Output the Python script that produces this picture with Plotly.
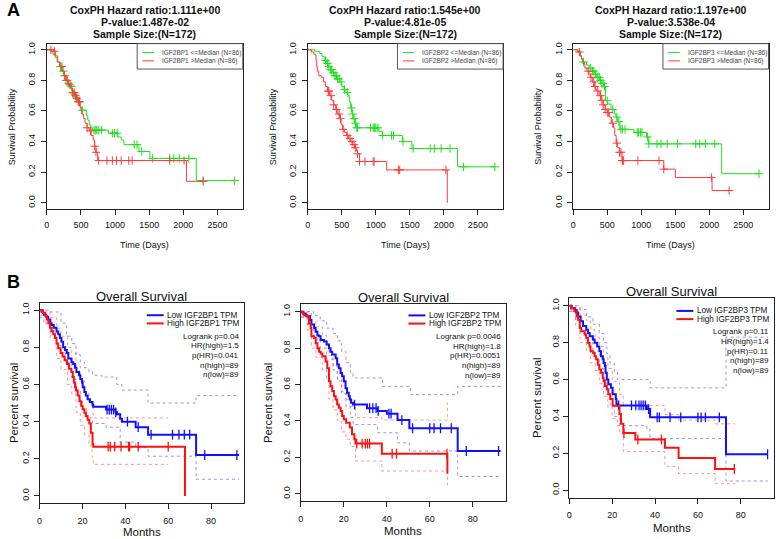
import numpy as np
import plotly.graph_objects as go

W, H = 776, 539
FONT = "Liberation Sans, Arial, Helvetica, sans-serif"


def fx(p):
    return p / W


def fy(p):
    return 1 - p / H


# ---------------- Panel A data (days) ----------------
A_xticks = [0, 500, 1000, 1500, 2000, 2500]
A_yticks = [0.0, 0.2, 0.4, 0.6, 0.8, 1.0]
A_ytick_text = ["0.0", "0.2", "0.4", "0.6", "0.8", "1.0"]
A_genes = ["IGF2BP1", "IGF2BP2", "IGF2BP3"]
A_hr = ["1.111e+00", "1.545e+00", "1.197e+00"]
A_pval = ["1.487e-02", "4.81e-05", "3.538e-04"]
A_n = [172, 172, 172]
A_group_n = [86, 86, 86]

A1_low_t = [0, 60, 90, 120, 150, 185, 215, 245, 275, 305, 335, 365, 395, 425, 455, 480, 500, 580, 600,
            620, 645, 670, 900, 1040, 1090, 1130, 1350, 1510, 2190]
A1_low_s = [1.0, 0.99, 0.97, 0.95, 0.92, 0.89, 0.86, 0.83, 0.80, 0.78, 0.76, 0.73, 0.71, 0.69, 0.66, 0.63,
            0.605, 0.57, 0.54, 0.51, 0.49, 0.475, 0.455, 0.43, 0.41, 0.38, 0.335, 0.29, 0.145]
A1_low_end = 2750
A1_low_cens = [200, 240, 280, 320, 360, 400, 430, 470, 520, 690, 710, 730, 760, 800, 960, 990, 1030, 1280,
               1320, 1390, 1550, 1800, 1860, 1940, 2080, 2290, 2750]
A1_high_t = [0, 100, 125, 160, 190, 225, 255, 285, 315, 345, 375, 405, 435, 460, 490, 510, 540, 560, 590,
             620, 650, 680, 700, 720, 745, 2045]
A1_high_s = [1.0, 0.99, 0.96, 0.92, 0.89, 0.86, 0.83, 0.80, 0.77, 0.75, 0.72, 0.70, 0.68, 0.66, 0.62, 0.58,
             0.55, 0.52, 0.49, 0.47, 0.44, 0.41, 0.37, 0.33, 0.276, 0.14]
A1_high_end = 2290
A1_high_cens = [60, 110, 220, 260, 300, 340, 380, 400, 420, 440, 460, 480, 590, 640, 700, 720, 760, 880,
                960, 1020, 1090, 1200, 1250, 1800, 2010, 2290]

A2_low_t = [0, 100, 175, 210, 240, 270, 300, 330, 360, 400, 430, 470, 500, 530, 560, 590, 610, 630, 650,
            670, 690, 710, 1045, 1095, 1390, 1530, 2200]
A2_low_s = [1.0, 0.99, 0.975, 0.955, 0.93, 0.91, 0.89, 0.87, 0.85, 0.83, 0.81, 0.79, 0.76, 0.74, 0.72, 0.70,
            0.66, 0.62, 0.58, 0.55, 0.52, 0.49, 0.465, 0.44, 0.40, 0.355, 0.235]
A2_low_end = 2750
A2_low_cens = [260, 290, 310, 330, 350, 380, 400, 420, 440, 460, 490, 540, 580, 640, 660, 680, 700, 720,
               730, 920, 960, 980, 1000, 1030, 1100, 1230, 1260, 1400, 1550, 1800, 1860, 1960, 2090, 2290, 2750]
A2_high_t = [0, 50, 90, 120, 130, 140, 160, 200, 230, 260, 290, 320, 350, 380, 410, 440, 470, 490, 510, 540,
             570, 600, 630, 660, 690, 710, 730, 760, 1160, 2050]
A2_high_s = [1.0, 0.985, 0.97, 0.93, 0.89, 0.86, 0.83, 0.82, 0.79, 0.76, 0.73, 0.70, 0.67, 0.64, 0.61, 0.58,
             0.55, 0.51, 0.48, 0.46, 0.44, 0.42, 0.40, 0.38, 0.36, 0.34, 0.32, 0.27, 0.215, 0.0]
A2_high_end = 2050
A2_high_cens = [300, 310, 340, 380, 420, 460, 480, 520, 580, 620, 650, 680, 700, 730, 760, 840, 960, 975,
                1330, 1350, 2030]

A3_low_t = [0, 72, 106, 120, 145, 193, 232, 280, 314, 347, 386, 410, 444, 473, 507, 555, 603, 627, 651, 685,
            893, 1076, 1110, 2181]
A3_low_s = [1.0, 0.99, 0.96, 0.94, 0.92, 0.90, 0.88, 0.86, 0.84, 0.82, 0.80, 0.78, 0.76, 0.667, 0.645, 0.61,
            0.58, 0.56, 0.53, 0.48, 0.46, 0.43, 0.385, 0.19]
A3_low_end = 2730
A3_low_cens = [150, 250, 280, 300, 330, 360, 380, 400, 420, 440, 460, 500, 580, 640, 670, 700, 720, 760, 940,
               960, 990, 1010, 1090, 1110, 1230, 1290, 1380, 1530, 1800, 1860, 1940, 2080, 2730]
A3_high_t = [0, 60, 100, 120, 140, 170, 200, 230, 250, 280, 310, 330, 350, 380, 410, 440, 470, 500, 530, 560,
             590, 610, 630, 650, 680, 715, 1330, 1500, 2040]
A3_high_s = [1.0, 0.985, 0.96, 0.94, 0.91, 0.88, 0.86, 0.84, 0.82, 0.79, 0.76, 0.74, 0.73, 0.70, 0.67, 0.64,
             0.61, 0.59, 0.56, 0.52, 0.49, 0.44, 0.39, 0.36, 0.33, 0.276, 0.22, 0.165, 0.08]
A3_high_end = 2290
A3_high_cens = [90, 220, 260, 300, 320, 360, 400, 420, 440, 470, 500, 520, 580, 640, 680, 700, 720, 730, 740,
                950, 1260, 1330, 2030, 2290]

# ---------------- Panel B data (months) ----------------
B_xticks = [0, 20, 40, 60, 80]
B_yticks = [0.0, 0.2, 0.4, 0.6, 0.8, 1.0]
B_ytick_text = ["0.0", "0.2", "0.4", "0.6", "0.8", "1.0"]
B_stats = [
    ["Logrank p=0.04", "HR(high)=1.5", "p(HR)=0.041", "n(high)=89", "n(low)=89"],
    ["Logrank p=0.0046", "HR(high)=1.8", "p(HR)=0.0051", "n(high)=89", "n(low)=89"],
    ["Logrank p=0.11", "HR(high)=1.4", "p(HR)=0.11", "n(high)=89", "n(low)=89"],
]

B1_low_t = [0, 1.5, 2, 3, 4, 5, 5.6, 6.6, 7.9, 8.7, 9.5, 10.2, 11, 11.9, 12.7, 13.4, 14.9, 15.7, 16.5, 17.2,
            18.4, 19, 19.8, 20.1, 20.9, 21.6, 22.4, 23.5, 24.7, 25, 31, 35.4, 36.1, 37.6, 38.4, 44.8, 50.6, 73]
B1_low_s = [1.0, 0.985, 0.975, 0.965, 0.95, 0.93, 0.92, 0.905, 0.885, 0.87, 0.85, 0.83, 0.80, 0.785, 0.77,
            0.74, 0.72, 0.71, 0.69, 0.667, 0.65, 0.63, 0.61, 0.585, 0.56, 0.54, 0.52, 0.505, 0.49, 0.48, 0.465,
            0.45, 0.44, 0.415, 0.40, 0.37, 0.33, 0.22]
B1_low_end = 93
B1_low_cens = [31.5, 32.5, 33.5, 34.5, 35.5, 41, 46, 52, 62, 65, 67.5, 70, 77, 92]
B1_high_t = [0, 1, 1.8, 2.6, 3.4, 4.1, 4.9, 5.6, 6.4, 7.2, 7.9, 8.7, 9.8, 10.7, 11.7, 12.8, 13.7, 14.8, 15.5,
             16, 16.5, 17, 17.8, 18.6, 19.4, 20.1, 20.9, 21.6, 22.4, 23.2, 23.9, 24.7, 25, 67.8]
B1_high_s = [1.0, 0.99, 0.985, 0.97, 0.95, 0.93, 0.905, 0.887, 0.87, 0.85, 0.82, 0.795, 0.77, 0.75, 0.73,
             0.71, 0.685, 0.667, 0.64, 0.61, 0.585, 0.567, 0.54, 0.51, 0.485, 0.466, 0.448, 0.43, 0.41, 0.39,
             0.34, 0.28, 0.265, 0.0]
B1_high_end = 67.8
B1_high_cens = [32, 33, 35, 38, 41.5, 42, 46, 60]
B1_low_up_t = [0, 5, 10, 12.5, 15, 17, 19, 21, 23, 24.7, 29, 36, 38.4, 50.6, 73]
B1_low_up_s = [1.0, 0.99, 0.93, 0.86, 0.82, 0.76, 0.72, 0.69, 0.67, 0.65, 0.64, 0.60, 0.57, 0.50, 0.54]
B1_low_lo_t = [0, 2, 5, 8, 10, 12, 15, 17, 19, 20, 22, 24.7, 31, 37.6, 44.8, 50.6, 73]
B1_low_lo_s = [0.96, 0.93, 0.87, 0.81, 0.77, 0.72, 0.63, 0.57, 0.51, 0.47, 0.42, 0.39, 0.37, 0.29, 0.26,
               0.214, 0.09]
B1_ci_low_end = 93
B1_high_up_t = [0, 3, 5, 8, 10, 13, 15, 17, 19, 21, 23, 25]
B1_high_up_s = [1.0, 0.99, 0.96, 0.90, 0.86, 0.80, 0.77, 0.70, 0.62, 0.56, 0.50, 0.42]
B1_high_lo_t = [0, 3, 5, 8, 10, 13, 15, 17, 19, 21, 23, 24.5, 25]
B1_high_lo_s = [0.97, 0.92, 0.85, 0.74, 0.68, 0.60, 0.55, 0.45, 0.38, 0.33, 0.27, 0.21, 0.17]
B1_ci_high_end = 60

B2_low_t = [0, 1.2, 2.3, 3, 4.3, 4.9, 6.2, 6.9, 7.7, 8.5, 9.2, 10.8, 12, 13.1, 13.8, 14.6, 16.2, 16.9, 17.7,
            18.5, 19.2, 20, 20.8, 21.5, 22.3, 22.8, 23.4, 24.3, 30.8, 35.7, 40, 45, 50.5, 73]
B2_low_s = [1.0, 0.99, 0.98, 0.975, 0.955, 0.93, 0.91, 0.89, 0.87, 0.865, 0.845, 0.836, 0.82, 0.80, 0.78,
            0.765, 0.745, 0.71, 0.69, 0.664, 0.645, 0.618, 0.58, 0.555, 0.536, 0.518, 0.50, 0.49, 0.47, 0.455,
            0.44, 0.405, 0.36, 0.235]
B2_low_end = 93
B2_low_cens = [25, 32, 33.5, 35, 36, 41, 42, 47, 52, 60, 62, 65, 70, 77, 92]
B2_high_t = [0, 0.8, 1.4, 2.5, 3.8, 4.6, 4.9, 6.2, 6.9, 7.7, 8.5, 9.2, 10, 11.5, 12.3, 13.1, 13.8, 14.6, 15.4,
             16.2, 16.9, 17.7, 18.5, 19.2, 20, 21.1, 22.8, 23.8, 24.9, 25.4, 37.7, 68.2]
B2_high_s = [1.0, 0.99, 0.98, 0.975, 0.935, 0.91, 0.865, 0.855, 0.827, 0.80, 0.78, 0.77, 0.755, 0.727, 0.69,
             0.618, 0.59, 0.564, 0.536, 0.518, 0.49, 0.473, 0.455, 0.427, 0.41, 0.39, 0.364, 0.327, 0.30, 0.276,
             0.22, 0.11]
B2_high_end = 68.2
B2_high_cens = [26, 28.5, 30, 31, 32, 42.5, 44.5, 68]
B2_low_up_t = [0, 3, 6, 9, 12, 15, 17, 19, 21, 23, 24.3, 38, 51, 73]
B2_low_up_s = [1.0, 1.0, 0.98, 0.95, 0.91, 0.88, 0.84, 0.78, 0.72, 0.66, 0.636, 0.59, 0.545, 0.59]
B2_low_lo_t = [0, 3, 6, 9, 12, 15, 17, 19, 21, 23, 24.3, 35.7, 45, 50.5, 73]
B2_low_lo_s = [0.97, 0.93, 0.85, 0.80, 0.74, 0.68, 0.62, 0.55, 0.48, 0.42, 0.38, 0.335, 0.28, 0.235, 0.095]
B2_ci_low_end = 93
B2_high_up_t = [0, 3, 5, 7, 10, 12, 13.1, 15, 17, 19, 21, 23, 25.4, 37.7, 68.2]
B2_high_up_s = [1.0, 1.0, 0.95, 0.92, 0.87, 0.83, 0.76, 0.70, 0.63, 0.56, 0.52, 0.48, 0.418, 0.405, 0.50]
B2_high_lo_t = [0, 3, 5, 7, 10, 12, 13.1, 15, 17, 19, 21, 23, 25.4, 37.7, 68.2]
B2_high_lo_s = [0.97, 0.90, 0.80, 0.75, 0.68, 0.63, 0.52, 0.46, 0.40, 0.34, 0.30, 0.26, 0.18, 0.125, 0.036]
B2_ci_high_end = 68.2

B3_low_t = [0, 1.1, 2.6, 3.4, 4.1, 5.3, 6.4, 7.9, 8.7, 9.5, 11, 11.8, 13, 14, 14.8, 15.6, 16, 16.6, 16.9,
            17.5, 18.2, 19.4, 20.2, 21.7, 22, 22.4, 36.2, 37.7, 73.1]
B3_low_s = [1.0, 0.987, 0.978, 0.964, 0.942, 0.916, 0.89, 0.87, 0.853, 0.835, 0.817, 0.80, 0.78, 0.754,
            0.727, 0.71, 0.69, 0.673, 0.637, 0.60, 0.574, 0.556, 0.52, 0.494, 0.467, 0.46, 0.44, 0.395, 0.195]
B3_low_end = 92.7
B3_low_cens = [23, 29, 31, 32.5, 33.5, 34.5, 35.5, 37, 41, 42, 47, 52, 60, 61.5, 63.5, 70, 92.5]
B3_high_t = [0, 0.8, 2.3, 3.4, 4.1, 4.9, 5.6, 7.2, 7.9, 8.7, 9.5, 9.9, 11, 11.8, 12.5, 13.3, 14, 14.8, 15.6,
             16, 16.6, 17.5, 18.2, 19.1, 20.2, 23.4, 24.1, 25.2, 30.8, 44.6, 51, 68]
B3_high_s = [1.0, 0.987, 0.97, 0.943, 0.925, 0.88, 0.862, 0.844, 0.826, 0.80, 0.78, 0.754, 0.745, 0.727,
             0.71, 0.68, 0.655, 0.637, 0.61, 0.592, 0.565, 0.547, 0.52, 0.494, 0.458, 0.413, 0.36, 0.31, 0.275,
             0.23, 0.175, 0.115]
B3_high_end = 77.4
B3_high_cens = [25.5, 32, 43, 77]
B3_low_up_t = [0, 3, 5, 8, 11, 14, 16, 17.5, 19, 21, 22.4, 37.7, 73.1]
B3_low_up_s = [1.0, 1.0, 0.98, 0.94, 0.90, 0.85, 0.80, 0.74, 0.69, 0.64, 0.60, 0.555, 0.83]
B3_low_lo_t = [0, 3, 5, 8, 11, 14, 16, 17.5, 19, 21, 22.4, 36.2, 37.7, 73.1]
B3_low_lo_s = [0.97, 0.92, 0.85, 0.80, 0.74, 0.66, 0.60, 0.52, 0.46, 0.40, 0.35, 0.33, 0.28, 0.05]
B3_ci_low_end = 92.7
B3_high_up_t = [0, 3, 5, 8, 10, 12, 14, 16, 18, 20, 23.4, 25.2, 44.6, 51, 68]
B3_high_up_s = [1.0, 0.99, 0.95, 0.92, 0.87, 0.83, 0.78, 0.72, 0.66, 0.59, 0.52, 0.46, 0.41, 0.38, 0.36]
B3_high_lo_t = [0, 3, 5, 8, 10, 12, 14, 16, 18, 20, 23.4, 25.2, 44.6, 51, 68]
B3_high_lo_s = [0.97, 0.89, 0.80, 0.76, 0.69, 0.65, 0.58, 0.51, 0.45, 0.39, 0.31, 0.21, 0.13, 0.09, 0.035]
B3_ci_high_end = 77.4

# ---------------- layout geometry (pixels) ----------------
A_boxes = [(44, 42.7, 240.7, 208.3), (306, 42.7, 502, 208.3), (572.5, 42.7, 768.5, 208.3)]
B_boxes = [(36.7, 302.3, 242.3, 503.3), (299, 304, 505, 501), (568.5, 298, 774, 497.5)]
A_XMAX = 2870
B_XMAX = 95.5
B_ylab_x = [11, 265.3, 536]
B_xlab_y = [532, 530.7, 528]
B_legend_dy = [12.5, 11, 12.5]

A_GREEN = "#1fe01f"
A_RED = "#ff3b3b"
B_BLUE = "#1010ff"
B_RED = "#ff1010"
B_BLUE_CI = "rgba(60,60,255,0.55)"
B_RED_CI = "rgba(255,60,60,0.55)"


def step_xy(t, s, end):
    x = list(t)
    y = list(s)
    if end > x[-1]:
        x.append(end)
        y.append(y[-1])
    return x, y


def surv_at(t, s, times):
    idx = np.searchsorted(np.array(t, dtype=float), np.array(times, dtype=float), side="right") - 1
    return [s[i] for i in idx]


fig = go.Figure()
layout_axes = {}
annotations = []
shapes = []

A_data = [
    (A1_low_t, A1_low_s, A1_low_end, A1_low_cens, A1_high_t, A1_high_s, A1_high_end, A1_high_cens),
    (A2_low_t, A2_low_s, A2_low_end, A2_low_cens, A2_high_t, A2_high_s, A2_high_end, A2_high_cens),
    (A3_low_t, A3_low_s, A3_low_end, A3_low_cens, A3_high_t, A3_high_s, A3_high_end, A3_high_cens),
]
B_data = [
    (B1_low_t, B1_low_s, B1_low_end, B1_low_cens, B1_high_t, B1_high_s, B1_high_end, B1_high_cens,
     B1_low_up_t, B1_low_up_s, B1_low_lo_t, B1_low_lo_s, B1_ci_low_end,
     B1_high_up_t, B1_high_up_s, B1_high_lo_t, B1_high_lo_s, B1_ci_high_end),
    (B2_low_t, B2_low_s, B2_low_end, B2_low_cens, B2_high_t, B2_high_s, B2_high_end, B2_high_cens,
     B2_low_up_t, B2_low_up_s, B2_low_lo_t, B2_low_lo_s, B2_ci_low_end,
     B2_high_up_t, B2_high_up_s, B2_high_lo_t, B2_high_lo_s, B2_ci_high_end),
    (B3_low_t, B3_low_s, B3_low_end, B3_low_cens, B3_high_t, B3_high_s, B3_high_end, B3_high_cens,
     B3_low_up_t, B3_low_up_s, B3_low_lo_t, B3_low_lo_s, B3_ci_low_end,
     B3_high_up_t, B3_high_up_s, B3_high_lo_t, B3_high_lo_s, B3_ci_high_end),
]


def axis_pair(n, box, xmax, xticks, yticks, ytext, xstand, ystand):
    l, t, r, b = box
    sx = "" if n == 1 else str(n)
    common = dict(showline=True, mirror=True, linecolor="#222", linewidth=1, ticks="outside", ticklen=5,
                  tickcolor="#222", tickwidth=1, showgrid=False, zeroline=False,
                  tickfont=dict(family=FONT, size=9, color="#111"))
    layout_axes["xaxis" + sx] = dict(domain=[fx(l), fx(r)], anchor="y" + sx, range=[0, xmax],
                                     tickvals=xticks, ticklabelstandoff=xstand, **common)
    layout_axes["yaxis" + sx] = dict(domain=[fy(b), fy(t)], anchor="x" + sx, range=[-0.04, 1.04],
                                     tickvals=yticks, ticktext=ytext, tickangle=-90,
                                     ticklabelstandoff=ystand, **common)
    return "x" + sx, "y" + sx


def text(x, y, s, size, xanchor="center", bold=False, color="#111", angle=0):
    annotations.append(dict(x=fx(x), y=fy(y), xref="paper", yref="paper", text=("<b>%s</b>" % s) if bold else s,
                            showarrow=False, xanchor=xanchor, yanchor="middle", textangle=angle,
                            font=dict(family=FONT, size=size, color=color)))


# ---------- row A ----------
for i in range(3):
    box = A_boxes[i]
    l, t, r, b = box
    xa, ya = axis_pair(i + 1, box, A_XMAX, A_xticks, A_yticks, A_ytick_text, 2, 2)
    lt, ls, le, lc, ht, hs, he, hc = A_data[i]
    x, y = step_xy(lt, ls, le)
    fig.add_trace(go.Scatter(x=x, y=y, xaxis=xa, yaxis=ya, mode="lines", line=dict(color=A_GREEN, width=1,
                             shape="hv"), showlegend=False, hoverinfo="skip"))
    fig.add_trace(go.Scatter(x=lc, y=surv_at(lt, ls, lc), xaxis=xa, yaxis=ya, mode="markers",
                             marker=dict(symbol="cross-thin", size=6, line=dict(color=A_GREEN, width=1)),
                             showlegend=False, hoverinfo="skip"))
    x, y = step_xy(ht, hs, he)
    fig.add_trace(go.Scatter(x=x, y=y, xaxis=xa, yaxis=ya, mode="lines", line=dict(color=A_RED, width=1,
                             shape="hv"), showlegend=False, hoverinfo="skip"))
    fig.add_trace(go.Scatter(x=hc, y=surv_at(ht, hs, hc), xaxis=xa, yaxis=ya, mode="markers",
                             marker=dict(symbol="cross-thin", size=6, line=dict(color=A_RED, width=1)),
                             showlegend=False, hoverinfo="skip"))
    cx = (l + r) / 2
    text(cx, 9, "CoxPH Hazard ratio:" + A_hr[i], 10.5, bold=True)
    text(cx, 21.5, "P-value:" + A_pval[i], 10.5, bold=True)
    text(cx, 33.5, "Sample Size:(N=%d)" % A_n[i], 10.5, bold=True)
    text(l - 35, (t + b) / 2, "Survival Probability", 9, angle=-90)
    text(cx, 244.5, "Time (Days)", 9)
    # legend box
    shapes.append(dict(type="rect", xref="paper", yref="paper", x0=fx(r - 106), x1=fx(r), y0=fy(t + 25.5),
                       y1=fy(t), line=dict(color="#555", width=1), fillcolor="rgba(0,0,0,0)"))
    for k, (col, lab) in enumerate([(A_GREEN, "<=Median"), (A_RED, ">Median")]):
        yy = t + 9 + k * 8.3
        shapes.append(dict(type="line", xref="paper", yref="paper", x0=fx(r - 100.7), x1=fx(r - 89),
                           y0=fy(yy), y1=fy(yy), line=dict(color=col, width=1)))
        text(r - 83, yy, "%s %s (N=%d)" % (A_genes[i], lab, A_group_n[i]), 6.5, xanchor="left", color="#444")

# ---------- row B ----------
for i in range(3):
    box = B_boxes[i]
    l, t, r, b = box
    xa, ya = axis_pair(i + 4, box, B_XMAX, B_xticks, B_yticks, B_ytick_text, 4, 1)
    (lt, ls, le, lc, ht, hs, he, hc, lut, lus, llt, lls, lce, hut, hus, hlt, hls, hce) = B_data[i]
    for (ct, cs, ce, col) in [(lut, lus, lce, B_BLUE_CI), (llt, lls, lce, B_BLUE_CI),
                              (hut, hus, hce, B_RED_CI), (hlt, hls, hce, B_RED_CI)]:
        x, y = step_xy(ct, cs, ce)
        fig.add_trace(go.Scatter(x=x, y=y, xaxis=xa, yaxis=ya, mode="lines",
                                 line=dict(color=col, width=1, dash="dot", shape="hv"),
                                 showlegend=False, hoverinfo="skip"))
    for (tt, ss, ee, cc, col) in [(lt, ls, le, lc, B_BLUE), (ht, hs, he, hc, B_RED)]:
        x, y = step_xy(tt, ss, ee)
        fig.add_trace(go.Scatter(x=x, y=y, xaxis=xa, yaxis=ya, mode="lines",
                                 line=dict(color=col, width=2, shape="hv"), showlegend=False, hoverinfo="skip"))
        fig.add_trace(go.Scatter(x=cc, y=surv_at(tt, ss, cc), xaxis=xa, yaxis=ya, mode="markers",
                                 marker=dict(symbol="line-ns", size=7, line=dict(color=col, width=1.3)),
                                 showlegend=False, hoverinfo="skip"))
    cx = (l + r) / 2
    text(cx, t - 6.5, "Overall Survival", 13)
    text(B_ylab_x[i], (t + b) / 2, "Percent survival", 11.3, angle=-90)
    text(cx, B_xlab_y[i], "Months", 11.5)
    gene = A_genes[i]
    y0 = t + B_legend_dy[i]
    for k, (col, lab) in enumerate([(B_BLUE, "Low %s TPM" % gene), (B_RED, "High %s TPM" % gene)]):
        yy = y0 + k * 8.2
        shapes.append(dict(type="line", xref="paper", yref="paper", x0=fx(r - 98), x1=fx(r - 81),
                           y0=fy(yy), y1=fy(yy), line=dict(color=col, width=2)))
        text(r - 79.5, yy, lab, 8.2, xanchor="left")
    for k, s in enumerate(B_stats[i]):
        text(r - 3, y0 + 21 + k * 9.7, s, 8.0, xanchor="right")

text(10.5, 9, "A", 18, bold=True, color="#000")
text(11, 281.5, "B", 18, bold=True, color="#000")

fig.update_layout(width=W, height=H, margin=dict(l=0, r=0, t=0, b=0), autosize=False,
                  paper_bgcolor="white", plot_bgcolor="white", showlegend=False, hovermode=False,
                  annotations=annotations, shapes=shapes, **layout_axes)
fig.write_html("out.html", config={"displayModeBar": False, "staticPlot": True},
               post_script="document.body.style.margin='0px';document.body.style.overflow='hidden';")
